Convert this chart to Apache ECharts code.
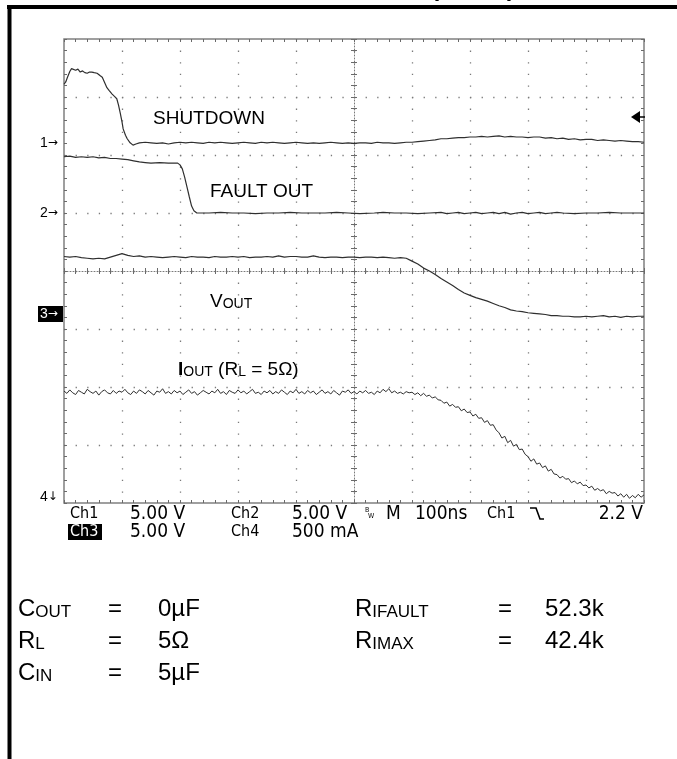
<!DOCTYPE html>
<html>
<head>
<meta charset="utf-8">
<title>Shutdown / fault out scope capture</title>
<script src="https://cdn.jsdelivr.net/npm/echarts@6/dist/echarts.min.js"></script>
<style>
  html, body { margin: 0; padding: 0; background: #fff; }
  #chart { width: 677px; height: 759px; }
</style>
</head>
<body>
<div id="chart"></div>
<script>
// x: time in ns (100ns/div), y: graticule divisions (0 = bottom, 8 = top)

// SHUTDOWN (Ch1)
const shutdown = [
  [0, 7.22], [3, 7.26], [6, 7.34], [10, 7.44], [13, 7.49], [16, 7.50], [20, 7.46], [24, 7.48],
  [28, 7.43], [32, 7.45], [36, 7.42], [40, 7.41], [44, 7.43], [48, 7.43], [52, 7.42], [57, 7.41],
  [62, 7.37], [66, 7.34], [70, 7.25], [74, 7.16], [78, 7.11], [83, 7.05], [87, 7.01], [91, 6.97],
  [94, 6.86], [97, 6.72], [100, 6.57], [102, 6.45], [106, 6.34], [109, 6.28], [114, 6.21], [119, 6.17],
  [124, 6.19], [130, 6.21], [140, 6.22], [150, 6.21], [160, 6.20], [170, 6.21], [180, 6.19], [190, 6.21],
  [200, 6.22], [210, 6.21], [220, 6.22], [230, 6.21], [240, 6.20], [250, 6.22], [260, 6.21], [270, 6.22],
  [280, 6.21], [290, 6.20], [300, 6.21], [310, 6.22], [320, 6.21], [330, 6.20], [340, 6.22], [350, 6.21],
  [360, 6.22], [370, 6.21], [380, 6.20], [390, 6.21], [400, 6.22], [410, 6.21], [420, 6.20], [430, 6.21],
  [440, 6.20], [450, 6.21], [460, 6.22], [470, 6.21], [480, 6.20], [490, 6.21], [500, 6.20], [510, 6.21],
  [520, 6.21], [530, 6.20], [540, 6.22], [550, 6.21], [560, 6.21], [570, 6.20], [580, 6.21], [590, 6.22],
  [600, 6.22], [610, 6.23], [620, 6.24], [630, 6.25], [640, 6.26], [650, 6.28], [660, 6.28], [670, 6.29],
  [680, 6.30], [690, 6.30], [700, 6.31], [710, 6.31], [720, 6.32], [730, 6.31], [740, 6.32], [750, 6.33],
  [760, 6.31], [770, 6.32], [780, 6.31], [790, 6.31], [800, 6.30], [810, 6.31], [820, 6.31], [830, 6.29],
  [840, 6.30], [850, 6.28], [860, 6.29], [870, 6.27], [880, 6.28], [890, 6.26], [900, 6.27], [910, 6.27],
  [920, 6.25], [930, 6.26], [940, 6.25], [950, 6.24], [960, 6.25], [970, 6.24], [980, 6.23], [990, 6.23],
  [1000, 6.22]
];

// FAULT OUT (Ch2)
const faultOut = [
  [0, 5.97], [10, 5.98], [20, 5.96], [30, 5.97], [40, 5.96], [50, 5.97], [60, 5.95], [70, 5.96],
  [80, 5.94], [90, 5.94], [100, 5.93], [110, 5.92], [120, 5.90], [130, 5.88], [140, 5.87], [150, 5.86],
  [165, 5.87], [180, 5.86], [196, 5.86], [200, 5.83], [204, 5.76], [208, 5.62], [212, 5.45], [216, 5.28],
  [220, 5.12], [224, 5.04], [229, 5.00], [250, 5.00], [270, 5.01], [290, 5.00], [310, 5.00], [330, 4.99],
  [350, 5.00], [370, 5.00], [390, 5.01], [410, 5.00], [430, 5.00], [450, 5.00], [470, 5.01], [490, 5.00],
  [510, 4.99], [535, 5.00], [550, 5.01], [570, 5.00], [590, 5.00], [610, 4.99], [630, 5.00], [650, 5.01],
  [660, 4.99], [670, 5.00], [680, 5.01], [690, 4.99], [700, 5.00], [710, 5.01], [720, 4.99], [730, 5.00],
  [740, 5.01], [750, 4.99], [760, 5.01], [770, 4.98], [780, 5.00], [790, 5.01], [800, 4.99], [810, 5.00],
  [820, 5.01], [830, 4.99], [840, 5.00], [850, 5.01], [860, 5.00], [880, 4.99], [900, 5.00], [920, 5.00],
  [940, 5.01], [960, 5.00], [980, 5.00], [1000, 5.00]
];

// VOUT (Ch3), one sample every 10ns
const voutStep = 10;
const voutY = [
  4.25, 4.24, 4.25, 4.23, 4.22, 4.21, 4.22, 4.21, 4.24, 4.27,
  4.30, 4.27, 4.25, 4.26, 4.24, 4.25, 4.24, 4.23, 4.24, 4.25,
  4.24, 4.23, 4.25, 4.24, 4.24, 4.23, 4.25, 4.24, 4.24, 4.25,
  4.24, 4.25, 4.23, 4.24, 4.24, 4.25, 4.24, 4.26, 4.24, 4.25,
  4.25, 4.24, 4.24, 4.26, 4.24, 4.23, 4.24, 4.24, 4.23, 4.24,
  4.24, 4.23, 4.24, 4.24, 4.23, 4.24, 4.23, 4.22, 4.23, 4.22,
  4.17, 4.12, 4.05, 4.00, 3.94, 3.87, 3.81, 3.75, 3.68, 3.62,
  3.58, 3.54, 3.51, 3.48, 3.44, 3.40, 3.37, 3.33, 3.31, 3.30,
  3.28, 3.27, 3.26, 3.25, 3.23, 3.23, 3.22, 3.22, 3.21, 3.21,
  3.22, 3.21, 3.22, 3.23, 3.21, 3.22, 3.20, 3.22, 3.21, 3.22,
  3.22
];

// IOUT (Ch4), one sample every 5ns
const ioutStep = 5;
const ioutY = [
  1.93, 1.89, 1.95, 1.90, 1.87, 1.94, 1.91, 1.88, 1.96, 1.92,
  1.89, 1.93, 1.86, 1.92, 1.95, 1.90, 1.88, 1.94, 1.89, 1.93,
  1.91, 1.96, 1.90, 1.87, 1.93, 1.89, 1.95, 1.92, 1.88, 1.94,
  1.90, 1.86, 1.93, 1.91, 1.97, 1.89, 1.92, 1.88, 1.94, 1.90,
  1.93, 1.87, 1.91, 1.95, 1.89, 1.92, 1.86, 1.90, 1.94, 1.91,
  1.88, 1.93, 1.90, 1.96, 1.89, 1.92, 1.87, 1.94, 1.91, 1.89,
  1.95, 1.90, 1.93, 1.88, 1.92, 1.96, 1.89, 1.91, 1.87, 1.93,
  1.90, 1.94, 1.88, 1.92, 1.89, 1.95, 1.91, 1.87, 1.93, 1.90,
  1.96, 1.89, 1.92, 1.88, 1.94, 1.90, 1.93, 1.87, 1.91, 1.95,
  1.89, 1.92, 1.88, 1.94, 1.90, 1.86, 1.93, 1.91, 1.95, 1.89,
  1.92, 1.88, 1.93, 1.90, 1.94, 1.89, 1.91, 1.87, 1.93, 1.90,
  1.96, 1.92, 1.97, 1.90, 1.93, 1.89, 1.91, 1.88, 1.92, 1.90,
  1.91, 1.87, 1.90, 1.85, 1.89, 1.84, 1.86, 1.81, 1.83, 1.78,
  1.77, 1.72, 1.74, 1.67, 1.70, 1.65, 1.66, 1.59, 1.62, 1.56,
  1.57, 1.50, 1.53, 1.46, 1.47, 1.39, 1.42, 1.34, 1.35, 1.26,
  1.21, 1.12, 1.15, 1.04, 1.08, 0.98, 1.01, 0.92, 0.93, 0.84,
  0.80, 0.72, 0.76, 0.67, 0.69, 0.61, 0.64, 0.55, 0.58, 0.50,
  0.49, 0.43, 0.46, 0.41, 0.42, 0.35, 0.38, 0.33, 0.36, 0.30,
  0.31, 0.26, 0.29, 0.22, 0.25, 0.21, 0.23, 0.16, 0.20, 0.17,
  0.18, 0.12, 0.16, 0.10, 0.15, 0.08, 0.13, 0.09, 0.15, 0.10,
  0.14
];

// graticule: 10 x 8 divisions
const timeMin = 0, timeMax = 1000, timePerDiv = 100;
const divMin = 0, divMax = 8;

const chartDom = document.getElementById('chart');
const chart = echarts.init(chartDom, null, { renderer: 'canvas' });

const SANS = '"Liberation Sans", Arial, Helvetica, sans-serif';
const COND = '"DejaVu Sans Condensed", "Liberation Sans Narrow", sans-serif';
const traceColor = '#2f2f2f';
const gridGray = '#7a7a7a';

const tickStyle = { color: '#6a6a6a', width: 1 };
const dottedGrid = { color: gridGray, width: 1.3, type: [1.3, 10.3] };

// small helper for free text
const txt = (x, y, text, size, extra) => ({
  type: 'text',
  x: x,
  y: y,
  z: 50,
  style: Object.assign({
    text: text,
    font: size + 'px ' + SANS,
    fill: '#000',
    align: 'left',
    verticalAlign: 'middle'
  }, extra || {})
});

// small caps as rich text: big first letter, small rest
const capsRich = (big, small) => ({
  b: { fontSize: big, fontFamily: SANS, verticalAlign: 'bottom', lineHeight: big },
  s: { fontSize: small, fontFamily: SANS, verticalAlign: 'bottom', lineHeight: big }
});

// scope readout text: narrow letters, wider digits
const chTxt = (x, y, text, extra) => txt(x, y, text, 16, Object.assign({ font: '16px ' + COND }, extra || {}));
const valTxt = (x, y, text, extra) => txt(x, y, text, 19, Object.assign({ font: '19px ' + COND }, extra || {}));

const makeXAxis = (position, opts) => Object.assign({
  type: 'value',
  min: timeMin,
  max: timeMax,
  interval: timePerDiv,
  position: position,
  axisLine: { show: false, onZero: false },
  axisTick: { show: true, inside: true, length: 3, lineStyle: tickStyle },
  minorTick: { show: true, splitNumber: 5, length: 3, lineStyle: tickStyle },
  axisLabel: { show: false },
  splitLine: { show: false }
}, opts || {});

const makeYAxis = (position, opts) => Object.assign({
  type: 'value',
  min: divMin,
  max: divMax,
  interval: 1,
  position: position,
  axisLine: { show: false, onZero: false },
  axisTick: { show: true, inside: true, length: 3, lineStyle: tickStyle },
  minorTick: { show: true, splitNumber: 5, length: 3, lineStyle: tickStyle },
  axisLabel: { show: false },
  splitLine: { show: false }
}, opts || {});

const centerLine = { show: true, onZero: false, lineStyle: { color: gridGray, width: 1, type: [1, 2] } };
const arrowRich = { a: { fontSize: 12, fontFamily: '"DejaVu Sans", sans-serif', verticalAlign: 'middle' } };

const condSize = 24, condSmall = 17;
const row1 = 609, row2 = 641, row3 = 673;

const option = {
  animation: false,
  backgroundColor: '#fff',
  grid: {
    left: 64,
    top: 39,
    width: 580,
    height: 464,
    show: true,
    borderColor: '#808080',
    borderWidth: 1.5,
    backgroundColor: 'transparent'
  },
  xAxis: [
    makeXAxis('bottom', {
      splitLine: { show: true, showMinLine: false, showMaxLine: false, lineStyle: dottedGrid }
    }),
    makeXAxis('top'),
    makeXAxis('bottom', { offset: -232, axisLine: centerLine }),
    makeXAxis('bottom', {
      offset: -232,
      axisTick: { show: true, inside: false, length: 3, lineStyle: tickStyle }
    })
  ],
  yAxis: [
    makeYAxis('left', {
      splitLine: { show: true, showMinLine: false, showMaxLine: false, lineStyle: dottedGrid }
    }),
    makeYAxis('right'),
    makeYAxis('left', { offset: -290, axisLine: centerLine }),
    makeYAxis('left', {
      offset: -290,
      axisTick: { show: true, inside: false, length: 3, lineStyle: tickStyle }
    })
  ],
  series: [
    {
      name: 'SHUTDOWN',
      type: 'line',
      data: shutdown,
      symbol: 'none',
      lineStyle: { color: traceColor, width: 1.2 },
      silent: true
    },
    {
      name: 'FAULT OUT',
      type: 'line',
      data: faultOut,
      symbol: 'none',
      lineStyle: { color: traceColor, width: 1.2 },
      silent: true
    },
    {
      name: 'VOUT',
      type: 'line',
      data: voutY.map((v, i) => [i * voutStep, v]),
      symbol: 'none',
      lineStyle: { color: traceColor, width: 1.2 },
      silent: true
    },
    {
      name: 'IOUT',
      type: 'line',
      data: ioutY.map((v, i) => [i * ioutStep, v]),
      symbol: 'none',
      lineStyle: { color: traceColor, width: 1 },
      silent: true
    }
  ],
  graphic: [
    // outer frame (cut at right and bottom)
    { type: 'line', z: 60, shape: { x1: 7, y1: 7, x2: 677, y2: 7 }, style: { stroke: '#000', lineWidth: 4 } },
    { type: 'line', z: 60, shape: { x1: 9.5, y1: 5, x2: 9.5, y2: 759 }, style: { stroke: '#000', lineWidth: 4 } },
    // bottom of the cut-off title
    txt(431, -11, '(CONT)', 24, { font: 'bold 24px ' + SANS }),

    // trace labels
    txt(153, 119, 'SHUTDOWN', 19),
    txt(210, 192, 'FAULT OUT', 19),
    txt(210, 302, '{b|V}{s|OUT}', 19, { rich: capsRich(19, 14) }),
    txt(178, 370, '{i|I}{s|OUT}{b| (R}{s|L}{b| = 5Ω)}', 19, {
      rich: Object.assign(capsRich(19, 14), {
        i: { fontSize: 19, fontWeight: 'bold', fontFamily: SANS, verticalAlign: 'bottom', lineHeight: 19 }
      })
    }),

    // channel ground markers
    txt(40, 143, '1{a|→}', 14, { rich: arrowRich }),
    txt(40, 213, '2{a|→}', 14, { rich: arrowRich }),
    { type: 'rect', z: 49, shape: { x: 38, y: 306, width: 25, height: 16 }, style: { fill: '#000' } },
    txt(40, 314, '3{a|→}', 14, { fill: '#fff', rich: { a: Object.assign({ fill: '#fff' }, arrowRich.a) } }),
    txt(40, 497, '4{a|↓}', 14, { rich: arrowRich }),

    // trigger level arrow on the right edge
    { type: 'polygon', z: 50, shape: { points: [[631, 117], [640, 111], [640, 123]] }, style: { fill: '#000' } },
    { type: 'line', z: 50, shape: { x1: 639, y1: 117, x2: 645, y2: 117 }, style: { stroke: '#000', lineWidth: 1.5 } },

    // scope readout, row 1
    chTxt(70, 514, 'Ch1'),
    valTxt(130, 514, '5.00 V'),
    chTxt(231, 514, 'Ch2'),
    valTxt(292, 514, '5.00 V'),
    txt(365, 510, 'B', 7, { font: '7px ' + COND }),
    txt(368, 516, 'W', 7, { font: '7px ' + COND }),
    valTxt(386, 514, 'M'),
    valTxt(415, 514, '100ns'),
    chTxt(487, 514, 'Ch1'),
    { type: 'polyline', z: 50, shape: { points: [[530, 508], [536, 508], [540, 519], [544, 519]] }, style: { stroke: '#000', lineWidth: 1.6, fill: null } },
    valTxt(643, 514, '2.2 V', { align: 'right' }),
    // scope readout, row 2
    { type: 'rect', z: 49, shape: { x: 68, y: 524, width: 34, height: 16 }, style: { fill: '#000' } },
    chTxt(70, 532, 'Ch3', { fill: '#fff' }),
    valTxt(130, 532, '5.00 V'),
    chTxt(231, 532, 'Ch4'),
    valTxt(292, 532, '500 mA'),

    // conditions
    txt(18, row1, '{b|C}{s|OUT}', condSize, { rich: capsRich(condSize, condSmall) }),
    txt(108, row1, '=', condSize),
    txt(158, row1, '0µF', condSize),
    txt(18, row2, '{b|R}{s|L}', condSize, { rich: capsRich(condSize, condSmall) }),
    txt(108, row2, '=', condSize),
    txt(158, row2, '5Ω', condSize),
    txt(18, row3, '{b|C}{s|IN}', condSize, { rich: capsRich(condSize, condSmall) }),
    txt(108, row3, '=', condSize),
    txt(158, row3, '5µF', condSize),
    txt(355, row1, '{b|R}{s|IFAULT}', condSize, { rich: capsRich(condSize, condSmall) }),
    txt(498, row1, '=', condSize),
    txt(545, row1, '52.3k', condSize),
    txt(355, row2, '{b|R}{s|IMAX}', condSize, { rich: capsRich(condSize, condSmall) }),
    txt(498, row2, '=', condSize),
    txt(545, row2, '42.4k', condSize)
  ]
};

chart.setOption(option);
window.addEventListener('resize', () => chart.resize());
</script>
</body>
</html>
